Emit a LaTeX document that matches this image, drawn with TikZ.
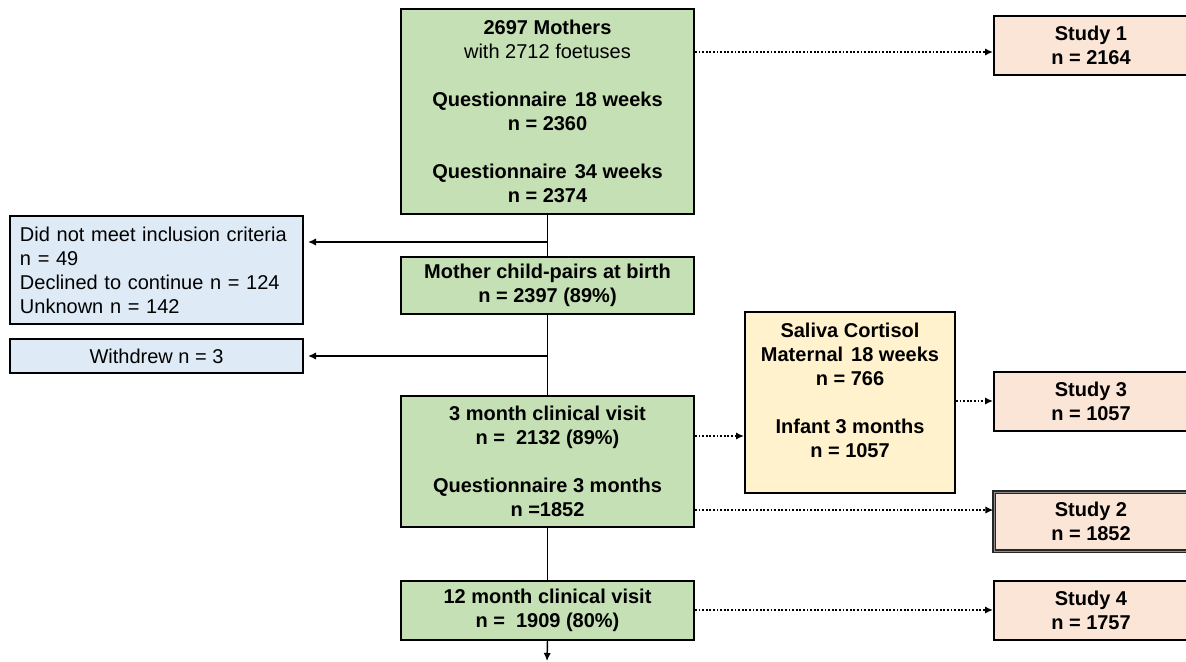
\documentclass[tikz,border=0pt]{standalone}
\usepackage{fontspec}
\setmainfont{Liberation Sans}
\usetikzlibrary{arrows.meta}
\definecolor{boxgreen}{RGB}{197,224,180}
\definecolor{boxpeach}{RGB}{251,229,214}
\definecolor{boxblue}{RGB}{222,235,247}
\definecolor{boxyellow}{RGB}{255,242,204}
\begin{document}
\begin{tikzpicture}[x=0.75pt,y=-0.75pt,
  box/.style={draw, line width=1.5pt, inner sep=0pt, align=center, font=\fontsize{15}{18}\selectfont\bfseries},
  mainbox/.style={box, fill=boxgreen, minimum width=219.75pt},
  studybox/.style={box, fill=boxpeach, minimum width=145.5pt, minimum height=44.25pt},
  lossbox/.style={box, fill=boxblue, minimum width=219.75pt, font=\fontsize{15}{18}\selectfont},
  conn/.style={line width=1.1pt},
  tip/.style={-{Latex[length=6pt,width=5.5pt]}},
  arr/.style={conn, tip, shorten >=3pt},
  dotarr/.style={line width=1.5pt, dash pattern=on 1.3pt off 1.4pt, tip}
]
\useasboundingbox (0,0) rectangle (1186,661);
\clip (0,0) rectangle (1186,661);

% main column
\node[mainbox, minimum height=153.75pt] (m1) at (547.5,111.5)
  {2697 Mothers\\ \mdseries with 2712 foetuses\\[18pt] Questionnaire\hspace{0.4em}18 weeks\\ n = 2360\\[18pt] Questionnaire\hspace{0.4em}34 weeks\\ n = 2374};
\node[mainbox, minimum height=42.75pt] (m2) at (547.5,285.5)
  {Mother child-pairs at birth\\ n = 2397 (89\%)};
\node[mainbox, minimum height=98.25pt] (m3) at (547.5,461.5)
  {3 month clinical visit\\ n =\hspace{0.55em}2132 (89\%)\\[18pt] Questionnaire 3 months\\ n =1852};
\node[mainbox, minimum height=44.25pt] (m4) at (547.5,610.5)
  {12 month clinical visit\\ n =\hspace{0.55em}1909 (80\%)};

% losses
\node[lossbox, minimum height=81pt, text width=204.75pt, align=left] (l1) at (156.5,270)
  {Did not meet inclusion criteria\\ n = 49\\ Declined to continue n = 124\\ Unknown n = 142};
\node[lossbox, minimum height=25.5pt] (l2) at (156.5,356) {Withdrew n = 3};

% saliva
\node[box, fill=boxyellow, minimum width=157.5pt, minimum height=135.75pt] (sal) at (850,402.5)
  {Saliva Cortisol\\ Maternal\hspace{0.4em}18 weeks\\ n = 766\\[18pt] Infant 3 months\\ n = 1057\\ \mbox{}};

% studies
\node[studybox] (s1) at (1091,45.5) {Study 1\\ n = 2164};
\node[studybox] (s3) at (1091,401.5) {Study 3\\ n = 1057};
\node[studybox, draw=black!85, line width=0.8pt, double=black!45, double distance=0.7pt] (s2) at (1091,521.5) {Study 2\\ n = 1852};
\node[studybox] (s4) at (1091,610.5) {Study 4\\ n = 1757};

% solid connectors
\coordinate (b1) at (547,242);
\coordinate (b2) at (547,356);
\coordinate (e1) at (547,661);
\draw[conn] (m1.south) -- (m2.north);
\draw[conn] (m2.south) -- (m3.north);
\draw[conn] (m3.south) -- (m4.north);
\draw[arr] (b1) -- (b1 -| l1.east);
\draw[arr] (b2) -- (b2 -| l2.east);
\draw[conn, tip] (m4.south) -- (e1);

% dotted connectors
\coordinate (d1) at (700,52);
\coordinate (d2) at (700,436);
\coordinate (d3) at (900,401);
\coordinate (d4) at (700,510);
\coordinate (d5) at (700,610);
\draw[dotarr] (d1 -| m1.east) -- (d1 -| s1.west);
\draw[dotarr] (d2 -| m3.east) -- (d2 -| sal.west);
\draw[dotarr] (d3 -| sal.east) -- (d3 -| s3.west);
\draw[dotarr] (d4 -| m3.east) -- (d4 -| s2.west);
\draw[dotarr] (d5 -| m4.east) -- (d5 -| s4.west);
\end{tikzpicture}
\end{document}
